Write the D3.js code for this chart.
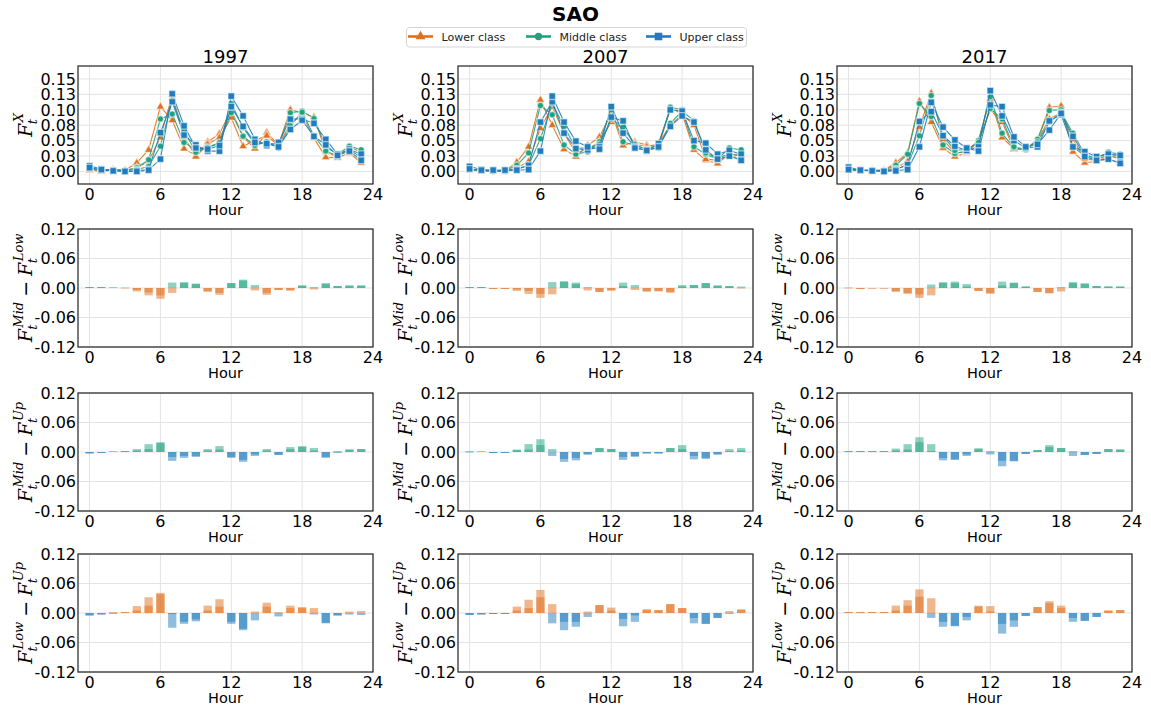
<!DOCTYPE html>
<html>
<head>
<meta charset="utf-8">
<script src="https://cdn.jsdelivr.net/npm/d3@7"></script>
<style>
  body { margin: 0; background: #fff; }
  svg { font-family: "DejaVu Sans", sans-serif; }
</style>
</head>
<body>
<svg id="svg" width="1151" height="709"></svg>
<script>
// hourly share of trips, two series per class and year
const hours = [0,1,2,3,4,5,6,7,8,9,10,11,12,13,14,15,16,17,18,19,20,21,22,23];
const years = ["1997", "2007", "2017"];

const low97a = [.004,.001,.003,.002,.014,.035,.105,.083,.037,.026,.048,.061,.100,.056,.037,.063,.043,.100,.095,.088,.032,.023,.039,.032];
const low97b = [.002,.000,.002,.002,.005,.017,.055,.124,.056,.024,.044,.055,.087,.041,.050,.058,.042,.078,.093,.054,.023,.022,.030,.014];
const mid97a = [.006,.002,.003,.002,.006,.019,.085,.093,.047,.035,.039,.045,.110,.071,.044,.048,.041,.095,.098,.086,.040,.028,.041,.035];
const mid97b = [.004,.002,.002,.002,.003,.008,.041,.115,.066,.031,.039,.047,.095,.057,.042,.048,.038,.074,.096,.058,.033,.025,.036,.022];
const up97a  = [.009,.004,.001,.000,.001,.003,.063,.113,.059,.043,.033,.033,.122,.090,.052,.042,.047,.085,.085,.078,.052,.028,.036,.028];
const up97b  = [.006,.003,.001,.000,.000,.002,.020,.126,.074,.038,.036,.042,.105,.073,.047,.045,.040,.068,.083,.057,.043,.026,.033,.018];

const low07a = [.003,.000,.001,.001,.015,.040,.116,.075,.036,.024,.042,.056,.095,.042,.048,.043,.040,.102,.094,.035,.018,.013,.028,.027];
const low07b = [.002,.001,.000,.000,.006,.016,.070,.105,.062,.030,.036,.048,.080,.070,.045,.040,.045,.075,.092,.075,.020,.018,.026,.020];
const mid07a = [.004,.002,.000,.001,.010,.030,.107,.092,.043,.028,.032,.048,.100,.048,.042,.036,.044,.104,.100,.040,.028,.020,.038,.035];
const mid07b = [.003,.002,.001,.000,.004,.010,.053,.110,.073,.038,.038,.044,.085,.072,.044,.035,.038,.078,.098,.082,.030,.022,.028,.025];
const up07a  = [.008,.003,.002,.002,.003,.010,.080,.113,.062,.037,.035,.040,.105,.062,.040,.033,.045,.100,.098,.050,.046,.028,.034,.028];
const up07b  = [.004,.002,.002,.002,.002,.003,.033,.122,.080,.049,.040,.036,.088,.082,.038,.034,.040,.073,.090,.080,.035,.020,.025,.018];

const low17a = [.003,.002,.002,.002,.014,.030,.114,.080,.038,.024,.030,.050,.118,.055,.037,.036,.052,.104,.106,.032,.014,.016,.024,.026];
const low17b = [.002,.001,.002,.001,.006,.016,.072,.127,.052,.030,.032,.048,.100,.080,.036,.036,.050,.085,.095,.052,.020,.018,.020,.014];
const mid17a = [.004,.002,.002,.002,.010,.028,.110,.089,.043,.029,.033,.050,.121,.062,.038,.035,.052,.099,.100,.040,.025,.022,.031,.028];
const mid17b = [.003,.002,.002,.001,.004,.010,.058,.123,.058,.034,.036,.047,.102,.085,.040,.036,.048,.080,.096,.062,.028,.020,.026,.020];
const up17a  = [.007,.002,.001,.000,.003,.011,.081,.097,.058,.041,.034,.040,.131,.090,.050,.038,.040,.082,.092,.040,.032,.024,.028,.026];
const up17b  = [.003,.002,.001,.000,.001,.003,.040,.112,.072,.051,.038,.033,.108,.105,.056,.040,.044,.067,.094,.057,.024,.018,.020,.013];

// differences between classes (two overlaid series per panel)
const midLow97a = [.002,.002,.001,.001,-.007,-.015,-.022,.011,.012,.009,-.008,-.014,.010,.017,.006,-.014,-.004,-.005,.005,.002,.010,.004,.005,.005];
const midLow97b = [.002,.002,.001,-.001,-.004,-.009,-.015,-.010,.010,.008,-.006,-.010,.010,.015,-.005,-.010,-.004,-.005,.005,-.003,.008,.004,.005,.005];
const midUp97a  = [-.003,-.002,.001,.002,.006,.016,.020,-.018,-.012,-.010,.006,.012,-.012,-.020,-.008,.006,-.006,.010,.012,.008,-.012,.002,.005,.006];
const midUp97b  = [-.003,-.002,.001,.002,.003,.006,.018,-.010,-.008,-.008,.003,.005,-.010,-.016,-.005,.003,-.006,.006,.010,.003,-.010,-.002,.005,.006];
const lowUp97a  = [-.005,-.003,.002,.002,.014,.032,.041,-.030,-.022,-.017,.015,.028,-.022,-.035,-.015,.021,-.007,.015,.012,.010,-.021,-.005,.003,.004];
const lowUp97b  = [-.005,-.003,-.002,.002,.005,.015,.038,-.002,-.018,-.013,.005,.013,-.018,-.032,.003,.013,.002,.010,.010,-.003,-.020,-.005,-.003,-.004];

const midLow07a = [.002,.002,-.002,-.002,-.006,-.012,-.020,.012,.014,.011,.002,-.008,-.005,.011,.006,-.007,-.007,-.009,.006,.006,.010,.005,.004,.003];
const midLow07b = [.002,.002,-.002,-.002,-.003,-.006,-.012,-.013,.012,.008,-.005,-.008,-.005,.004,-.004,-.007,-.006,-.009,.003,.006,.010,.005,.004,-.001];
const midUp07a  = [.002,.001,-.002,-.002,.005,.016,.026,.006,-.020,-.017,-.005,.008,.006,-.016,-.010,-.003,-.003,.008,.014,-.015,-.014,-.005,.006,.008];
const midUp07b  = [-.001,.001,-.002,-.002,.004,.005,.014,-.008,-.014,-.012,-.005,.008,.006,-.010,-.008,-.003,-.003,.008,.006,-.008,-.012,-.005,.002,.003];
const lowUp07a  = [-.004,-.003,-.002,-.002,.013,.027,.047,.018,-.035,-.028,-.008,.016,.011,-.027,-.018,.007,.006,.018,.010,-.021,-.022,-.010,.004,.007];
const lowUp07b  = [-.004,-.003,-.002,-.002,.005,.010,.032,-.021,-.018,-.018,.003,.016,.005,-.012,-.005,.007,.006,.018,.010,-.010,-.022,-.010,-.002,.007];

const midLow17a = [.001,-.002,-.001,-.001,-.008,-.012,-.020,.007,.012,.013,.008,-.006,-.012,.013,.011,.003,-.008,-.011,-.007,.012,.009,.004,.003,.003];
const midLow17b = [-.001,-.002,-.001,-.001,-.006,-.010,-.013,-.015,.010,.010,.003,-.006,-.010,.005,.010,.003,-.008,-.010,.002,.010,.009,.004,.003,.003];
const midUp17a  = [.002,.002,.002,.002,.007,.016,.030,.016,-.017,-.016,-.008,.007,-.005,-.029,-.019,-.004,.004,.014,.008,-.008,-.006,-.004,.006,.005];
const midUp17b  = [.002,.002,.002,.002,.003,.005,.020,.002,-.012,-.015,-.005,.007,.002,-.018,-.018,-.004,.004,.010,.008,.002,-.006,-.004,.006,.005];
const lowUp17a  = [.002,.002,.002,.002,.015,.026,.048,.030,-.028,-.027,-.015,.015,.014,-.042,-.028,-.006,.012,.024,.015,-.018,-.016,-.008,.005,.006];
const lowUp17b  = [.002,.002,.002,.002,.005,.015,.033,-.010,-.018,-.026,-.008,.013,.003,-.022,-.015,-.006,.012,.020,.010,-.010,-.016,-.008,.005,.006];

const xTicks = [0, 6, 12, 18, 24];
const shareTicks = [0, 0.025, 0.05, 0.075, 0.1, 0.125, 0.15];
const shareLabels = ["0.00", "0.03", "0.05", "0.08", "0.10", "0.13", "0.15"];
const diffTicks = [-0.12, -0.06, 0, 0.06, 0.12];
const diffLabels = ["-0.12", "-0.06", "0.00", "0.06", "0.12"];

const orange = "#e0701e", green = "#1fa37e", blue = "#1f7cbd";

const classes = [
  {name: "Lower class", color: orange, marker: d3.symbolTriangle, size: 32},
  {name: "Middle class", color: green, marker: d3.symbolCircle, size: 32},
  {name: "Upper class", color: blue, marker: d3.symbolSquare, size: 44}
];

const lines = {
  "1997": [[low97a, low97b], [mid97a, mid97b], [up97a, up97b]],
  "2007": [[low07a, low07b], [mid07a, mid07b], [up07a, up07b]],
  "2017": [[low17a, low17b], [mid17a, mid17b], [up17a, up17b]]
};
const diffs = {
  "1997": [[midLow97a, midLow97b], [midUp97a, midUp97b], [lowUp97a, lowUp97b]],
  "2007": [[midLow07a, midLow07b], [midUp07a, midUp07b], [lowUp07a, lowUp07b]],
  "2017": [[midLow17a, midLow17b], [midUp17a, midUp17b], [lowUp17a, lowUp17b]]
};
// colour for positive / negative differences in each row
const diffColors = [[green, orange], [green, blue], [orange, blue]];
const rowLabels = [
  [{base: "F", sub: "t", sup: "X"}],
  [{base: "F", sub: "t", sup: "Mid"}, {op: "\u2212"}, {base: "F", sub: "t", sup: "Low"}],
  [{base: "F", sub: "t", sup: "Mid"}, {op: "\u2212"}, {base: "F", sub: "t", sup: "Up"}],
  [{base: "F", sub: "t", sup: "Low"}, {op: "\u2212"}, {base: "F", sub: "t", sup: "Up"}]
];

const colLeft = [78, 458, 837];
const rowTop = [66, 229, 393, 554];
const plotW = 295, plotH = 118;
const mathFont = "'DejaVu Serif', serif";

var svg = d3.select("#svg");
svg.append("rect").attr("width", 1151).attr("height", 709).attr("fill", "#fff");

svg.append("text")
    .attr("x", 575.5).attr("y", 21)
    .attr("text-anchor", "middle")
    .attr("font-size", 20).attr("font-weight", "bold")
    .text("SAO");

// legend
var legend = svg.append("g");
legend.append("rect")
    .attr("x", 406.5).attr("y", 27.5).attr("width", 340).attr("height", 19.5)
    .attr("rx", 3).attr("fill", "#fff").attr("stroke", "#d6d6d6");
const legX = [408, 526, 646];
classes.forEach((c, i) => {
  legend.append("line")
      .attr("x1", legX[i]).attr("x2", legX[i] + 25).attr("y1", 36.5).attr("y2", 36.5)
      .attr("stroke", c.color).attr("stroke-width", 2.6);
  legend.append("path")
      .attr("d", d3.symbol(c.marker, c.size * 1.3)())
      .attr("transform", `translate(${legX[i] + 12.5},36.5)`)
      .attr("fill", c.color);
  legend.append("text")
      .attr("x", legX[i] + 33.5).attr("y", 40.5)
      .attr("font-size", 11).attr("fill", "#222")
      .text(c.name);
});

function mathLabel(cx, cy, parts) {
  var g = svg.append("g").attr("transform", `translate(${cx},${cy}) rotate(-90)`)
      .attr("font-family", mathFont);
  var inner = g.append("g");
  var x = 0;
  parts.forEach(p => {
    if (p.op) {
      x += 5;
      var t = inner.append("text").attr("x", x).attr("font-size", 19)
          .attr("font-family", "'DejaVu Sans', sans-serif").text(p.op);
      x += t.node().getComputedTextLength() + 5;
    } else {
      var b = inner.append("text").attr("x", x).attr("font-size", 19)
          .attr("font-style", "italic").text(p.base);
      x += b.node().getComputedTextLength() + 0.5;
      var sb = inner.append("text").attr("x", x - 1).attr("y", 5).attr("font-size", 13)
          .attr("font-style", "italic").text(p.sub);
      var sp = inner.append("text").attr("x", x + 1).attr("y", -9.5).attr("font-size", 13)
          .attr("font-style", "italic").text(p.sup);
      x += Math.max(sb.node().getComputedTextLength(), sp.node().getComputedTextLength() + 1);
    }
  });
  inner.attr("transform", `translate(${-x / 2},0)`);
}

years.forEach((year, ci) => {
  var left = colLeft[ci];
  var x = d3.scaleLinear().domain([-0.98, 24]).range([left, left + plotW]);

  svg.append("text")
      .attr("x", left + plotW / 2).attr("y", 63)
      .attr("text-anchor", "middle").attr("font-size", 18).attr("font-weight", "normal")
      .text(year);

  rowTop.forEach((top, ri) => {
    var y = ri === 0
      ? d3.scaleLinear().domain([-0.0204, 0.171]).range([top + plotH, top])
      : d3.scaleLinear().domain([-0.12, 0.12]).range([top + plotH, top]);
    var yTicks = ri === 0 ? shareTicks : diffTicks;
    var yLabels = ri === 0 ? shareLabels : diffLabels;

    var panel = svg.append("g");

    // grid
    panel.append("g").selectAll("line").data(xTicks).join("line")
        .attr("x1", d => x(d)).attr("x2", d => x(d))
        .attr("y1", top).attr("y2", top + plotH)
        .attr("stroke", "#e3e3e3").attr("stroke-width", 1);
    panel.append("g").selectAll("line").data(yTicks).join("line")
        .attr("x1", left).attr("x2", left + plotW)
        .attr("y1", d => y(d)).attr("y2", d => y(d))
        .attr("stroke", "#e3e3e3").attr("stroke-width", 1);

    if (ri === 0) {
      var line = d3.line().x((d, i) => x(hours[i])).y(d => y(d));
      lines[year].forEach((pair, k) => {
        var c = classes[k];
        pair.forEach(series => {
          panel.append("path")
              .attr("d", line(series))
              .attr("fill", "none").attr("stroke", c.color)
              .attr("stroke-width", 1.1).attr("opacity", 0.9);
        });
        pair.forEach(series => {
          panel.append("g").selectAll("path").data(series).join("path")
              .attr("d", d3.symbol(c.marker, c.size)())
              .attr("transform", (d, i) => `translate(${x(hours[i])},${y(d)})`)
              .attr("fill", c.color)
              .attr("stroke", "#fff").attr("stroke-opacity", 0.55).attr("stroke-width", 1.4);
        });
      });
    } else {
      var cols = diffColors[ri - 1];
      var bw = x(0.7) - x(0);
      diffs[year][ri - 1].forEach(series => {
        panel.append("g").selectAll("rect").data(series).join("rect")
            .attr("x", (d, i) => x(hours[i]) - bw / 2)
            .attr("width", bw)
            .attr("y", d => y(Math.max(0, d)))
            .attr("height", d => Math.abs(y(d) - y(0)))
            .attr("fill", d => d >= 0 ? cols[0] : cols[1])
            .attr("fill-opacity", 0.5);
      });
    }

    // frame
    panel.append("rect")
        .attr("x", left).attr("y", top).attr("width", plotW).attr("height", plotH)
        .attr("fill", "none").attr("stroke", "#222").attr("stroke-width", 1.2);

    // tick labels
    panel.append("g").selectAll("text").data(yTicks).join("text")
        .attr("x", left - 2).attr("y", d => y(d) + 5.8)
        .attr("text-anchor", "end").attr("font-size", 16)
        .text((d, i) => yLabels[i]);
    panel.append("g").selectAll("text").data(xTicks).join("text")
        .attr("x", d => x(d)).attr("y", top + plotH + 16)
        .attr("text-anchor", "middle").attr("font-size", 16)
        .text(d => d);
    panel.append("text")
        .attr("x", left + plotW / 2).attr("y", top + plotH + 31)
        .attr("text-anchor", "middle").attr("font-size", 14.5)
        .text("Hour");

    mathLabel(left - 46, top + plotH / 2, rowLabels[ri]);
  });
});
</script>
</body>
</html>
